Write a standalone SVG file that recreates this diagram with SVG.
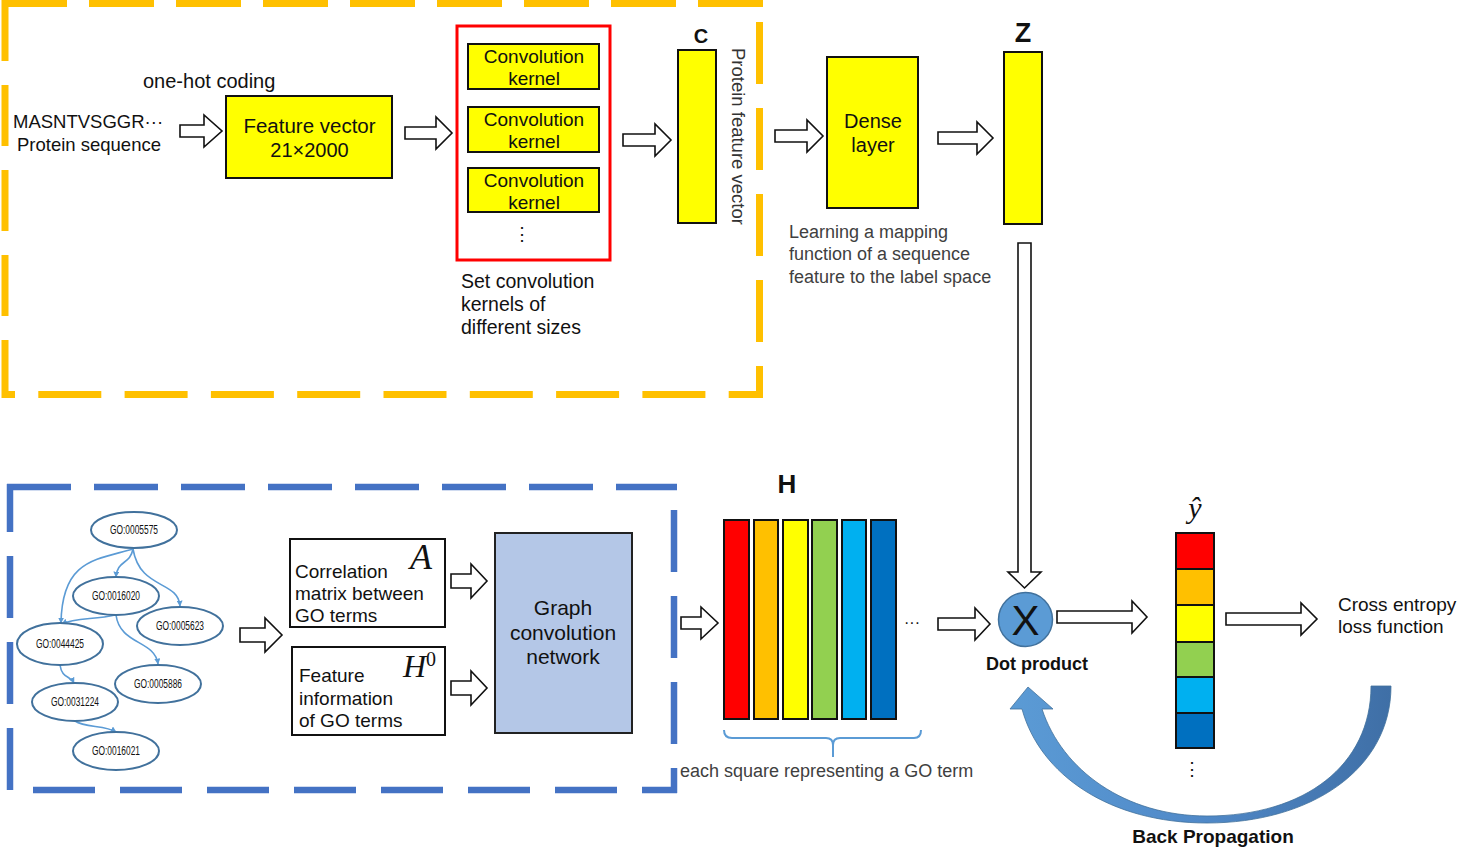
<svg xmlns="http://www.w3.org/2000/svg" width="1458" height="848" viewBox="0 0 1458 848">
<defs>
<style>
text{font-family:"Liberation Sans",Arial,sans-serif;fill:#111;}
.mid{text-anchor:middle;}
.gray{fill:#404040;font-size:18px;}
.box{fill:#FFFF00;stroke:#111;stroke-width:2;}
.harrow{fill:#fff;stroke:#111;stroke-width:1.6;stroke-linejoin:miter;}
.ydash{stroke:#FFC000;stroke-width:7;fill:none;}
.bdash{stroke:#4472C4;stroke-width:6.5;fill:none;}
.go{fill:#fff;stroke:#41719C;stroke-width:2;}
.gotxt{font-size:12px;text-anchor:middle;fill:#111;}
.edge{fill:none;stroke:#5B9BD5;stroke-width:1.6;marker-end:url(#ah);}
.serif{font-family:"Liberation Serif","Times New Roman",serif;font-style:italic;}
.k{font-size:19px;}
</style>
<marker id="ah" viewBox="0 0 10 10" refX="9" refY="5" markerWidth="6" markerHeight="6" orient="auto" markerUnits="userSpaceOnUse">
<path d="M0,0 L10,5 L0,10 Z" fill="#5B9BD5"/>
</marker>
<linearGradient id="bpg" x1="0" y1="0" x2="1" y2="0">
<stop offset="0" stop-color="#5B9BD5"/>
<stop offset="0.5" stop-color="#5089C8"/>
<stop offset="1" stop-color="#3F6FA6"/>
</linearGradient>
</defs>
<rect width="1458" height="848" fill="#fff"/>

<g id="protein-region">
<line class="ydash" x1="2" y1="3.5" x2="763" y2="3.5" stroke-dasharray="65 22"/>
<line class="ydash" x1="5" y1="0" x2="5" y2="398" stroke-dasharray="61 24"/>
<line class="ydash" x1="759.5" y1="22" x2="759.5" y2="398" stroke-dasharray="62 24"/>
<line class="ydash" x1="5" y1="394.5" x2="763" y2="394.5" stroke-dasharray="63 23.3" stroke-dashoffset="53"/>
</g>

<g id="go-region">
<line class="bdash" x1="7" y1="487" x2="677" y2="487" stroke-dasharray="64 23"/>
<line class="bdash" x1="10" y1="484" x2="10" y2="793" stroke-dasharray="62 24" stroke-dashoffset="14"/>
<line class="bdash" x1="674" y1="510" x2="674" y2="793" stroke-dasharray="62 24"/>
<line class="bdash" x1="33" y1="790" x2="677" y2="790" stroke-dasharray="62 25"/>
</g>

<g id="connectors">
<path class="harrow" d="M180,125 H204 V115 L222,131 L204,147 V137 H180 Z"/>
<path class="harrow" d="M405,127 H436 V117 L452,133 L436,149 V139 H405 Z"/>
<path class="harrow" d="M623,134 H655 V124 L671,140 L655,156 V146 H623 Z"/>
<path class="harrow" d="M775,130 H807 V120 L823,136 L807,152 V142 H775 Z"/>
<path class="harrow" d="M938,132 H977 V122 L993,138 L977,154 V144 H938 Z"/>
<path class="harrow" d="M1018,243 V572 H1008 L1024.5,588 L1041,572 H1031 V243 Z"/>
<path class="harrow" d="M1057,611 H1132 V601 L1147,617 L1132,633 V623 H1057 Z"/>
<path class="harrow" d="M1226,613 H1301 V603 L1317,619 L1301,635 V625 H1226 Z"/>
<path class="harrow" d="M938,618 H975 V608 L990,624 L975,640 V630 H938 Z"/>
<path class="harrow" d="M681,617 H701 V607 L718,623 L701,639 V629 H681 Z"/>
<path class="harrow" d="M240,628 H265 V618 L282,635 L265,652 V642 H240 Z"/>
<path class="harrow" d="M451,574 H471 V564 L487,581 L471,598 V588 H451 Z"/>
<path class="harrow" d="M451,681 H471 V671 L487,688 L471,705 V695 H451 Z"/>
<path class="edge" d="M133,549 C130,565 117,560 116,577"/>
<path class="edge" d="M133,549 C140,590 178,580 180,606"/>
<path class="edge" d="M133,549 C95,560 62,560 61,623"/>
<path class="edge" d="M115,615 C95,620 75,617 62,624"/>
<path class="edge" d="M116,615 C120,645 155,640 158,664"/>
<path class="edge" d="M60,665 C62,679 70,675 74,683"/>
<path class="edge" d="M75,721 C85,728 105,725 116,732"/>
<path d="M724,730 Q724,738 732,738 H826 Q833,738 833,745 V757 M833,745 Q833,738 840,738 H914 Q921,738 921,730" fill="none" stroke="#5B9BD5" stroke-width="2"/>
<path d="M1391,686 C1391,770 1310,823 1207,823 C1110,823 1040,775 1022,709 L1010,709 L1028,687 L1053,709 L1042,709 C1062,770 1125,816 1207,816 C1305,816 1371,765 1371,686 Z" fill="url(#bpg)" stroke="#41719C" stroke-width="0.8"/>
</g>

<g id="protein-sequence">
<text x="143" y="88" style="font-size:20px">one-hot coding</text>
<text x="13" y="128" style="font-size:18.5px">MASNTVSGGR···</text>
<text x="17" y="151" style="font-size:18.5px">Protein sequence</text>
</g>

<g id="feature-vector">
<rect class="box" x="226" y="96" width="166" height="82"/>
<text class="mid" x="309.5" y="133" style="font-size:20.5px">Feature vector</text>
<text class="mid" x="309.5" y="157" style="font-size:20px">21×2000</text>
</g>

<g id="conv-kernels">
<rect x="457" y="26" width="153" height="234" fill="#fff" stroke="#FF0000" stroke-width="3"/>
<rect class="box" x="468" y="44" width="131" height="45"/>
<text class="mid k" x="534" y="63">Convolution</text>
<text class="mid k" x="534" y="85">kernel</text>
<rect class="box" x="468" y="107" width="131" height="45"/>
<text class="mid k" x="534" y="126">Convolution</text>
<text class="mid k" x="534" y="148">kernel</text>
<rect class="box" x="468" y="168" width="131" height="44"/>
<text class="mid k" x="534" y="187">Convolution</text>
<text class="mid k" x="534" y="209">kernel</text>
<text class="mid" x="522" y="240" style="font-size:18px">⋮</text>
<text x="461" y="288" style="font-size:19.5px">Set convolution</text>
<text x="461" y="311" style="font-size:19.5px">kernels of</text>
<text x="461" y="334" style="font-size:19.5px">different sizes</text>
</g>

<g id="vector-c">
<rect class="box" x="678" y="50" width="38" height="173"/>
<text class="mid" x="701" y="43" style="font-size:20px;font-weight:bold">C</text>
<text transform="translate(732,48) rotate(90)" style="font-size:18.5px;fill:#333">Protein feature vector</text>
</g>

<g id="dense-layer">
<rect class="box" x="827" y="57" width="91" height="151"/>
<text class="mid" x="873" y="128" style="font-size:20px">Dense</text>
<text class="mid" x="873" y="152" style="font-size:20px">layer</text>
<text class="gray" x="789" y="238">Learning a mapping</text>
<text class="gray" x="789" y="260">function of a sequence</text>
<text class="gray" x="789" y="283">feature to the label space</text>
</g>

<g id="vector-z">
<rect class="box" x="1004" y="52" width="38" height="172"/>
<text class="mid" x="1023" y="42" style="font-size:27px;font-weight:bold">Z</text>
</g>

<g id="go-graph">
<ellipse class="go" cx="134" cy="530" rx="43" ry="18"/>
<text class="gotxt" x="134" y="534" textLength="48" lengthAdjust="spacingAndGlyphs">GO:0005575</text>
<ellipse class="go" cx="116" cy="596" rx="43" ry="19"/>
<text class="gotxt" x="116" y="600" textLength="48" lengthAdjust="spacingAndGlyphs">GO:0016020</text>
<ellipse class="go" cx="180" cy="626" rx="43" ry="19"/>
<text class="gotxt" x="180" y="630" textLength="48" lengthAdjust="spacingAndGlyphs">GO:0005623</text>
<ellipse class="go" cx="60" cy="644" rx="43" ry="21"/>
<text class="gotxt" x="60" y="648" textLength="48" lengthAdjust="spacingAndGlyphs">GO:0044425</text>
<ellipse class="go" cx="158" cy="684" rx="43" ry="19"/>
<text class="gotxt" x="158" y="688" textLength="48" lengthAdjust="spacingAndGlyphs">GO:0005886</text>
<ellipse class="go" cx="75" cy="702" rx="43" ry="19"/>
<text class="gotxt" x="75" y="706" textLength="48" lengthAdjust="spacingAndGlyphs">GO:0031224</text>
<ellipse class="go" cx="116" cy="751" rx="43" ry="19"/>
<text class="gotxt" x="116" y="755" textLength="48" lengthAdjust="spacingAndGlyphs">GO:0016021</text>
</g>

<g id="correlation-matrix">
<rect x="290" y="539" width="155" height="88" fill="#fff" stroke="#111" stroke-width="2"/>
<text class="serif" x="410" y="569" style="font-size:36px">A</text>
<text x="295" y="578" style="font-size:19px">Correlation</text>
<text x="295" y="600" style="font-size:19px">matrix between</text>
<text x="295" y="622" style="font-size:19px">GO terms</text>
</g>

<g id="feature-information">
<rect x="292" y="647" width="153" height="88" fill="#fff" stroke="#111" stroke-width="2"/>
<text class="serif" x="403" y="677" style="font-size:32px">H<tspan dy="-11" style="font-size:20px;font-style:normal">0</tspan></text>
<text x="299" y="682" style="font-size:19px">Feature</text>
<text x="299" y="705" style="font-size:19px">information</text>
<text x="299" y="727" style="font-size:19px">of GO terms</text>
</g>

<g id="gcn">
<rect x="495" y="533" width="137" height="200" fill="#B4C7E7" stroke="#222" stroke-width="2"/>
<text class="mid" x="563" y="615" style="font-size:21px">Graph</text>
<text class="mid" x="563" y="640" style="font-size:21px">convolution</text>
<text class="mid" x="563" y="664" style="font-size:21px">network</text>
</g>

<g id="matrix-h">
<text class="mid" x="787" y="493" style="font-size:26px;font-weight:bold">H</text>
<g stroke="#111" stroke-width="2">
<rect x="724" y="520" width="25" height="199" fill="#FF0000"/>
<rect x="754" y="520" width="24" height="199" fill="#FFC000"/>
<rect x="783" y="520" width="25" height="199" fill="#FFFF00"/>
<rect x="812" y="520" width="25" height="199" fill="#92D050"/>
<rect x="842" y="520" width="24" height="199" fill="#00B0F0"/>
<rect x="871" y="520" width="25" height="199" fill="#0070C0"/>
</g>
<text class="mid" x="912" y="628" style="font-size:16px">···</text>
<text x="680" y="777" style="font-size:18px;fill:#404040">each square representing a GO term</text>
</g>

<g id="dot-product">
<circle cx="1025.5" cy="619.5" r="27" fill="#5B9BD5" stroke="#41719C" stroke-width="1.5"/>
<text class="mid" x="1025.5" y="635" style="font-size:42px">X</text>
<text class="mid" x="1037" y="670" style="font-size:18px;font-weight:bold">Dot product</text>
</g>

<g id="prediction-y">
<text class="serif mid" x="1195" y="518" style="font-size:30px">ŷ</text>
<g stroke="#111" stroke-width="2">
<rect x="1176" y="533" width="38" height="36" fill="#FF0000"/>
<rect x="1176" y="569" width="38" height="36" fill="#FFC000"/>
<rect x="1176" y="605" width="38" height="37" fill="#FFFF00"/>
<rect x="1176" y="642" width="38" height="35" fill="#92D050"/>
<rect x="1176" y="677" width="38" height="36" fill="#00B0F0"/>
<rect x="1176" y="713" width="38" height="35" fill="#0070C0"/>
</g>
<text class="mid" x="1192" y="775" style="font-size:18px">⋮</text>
</g>

<g id="loss">
<text x="1338" y="611" style="font-size:19px">Cross entropy</text>
<text x="1338" y="633" style="font-size:19px">loss function</text>
</g>

<g id="back-propagation">
<text class="mid" x="1213" y="843" style="font-size:19px;font-weight:bold">Back Propagation</text>
</g>
</svg>
